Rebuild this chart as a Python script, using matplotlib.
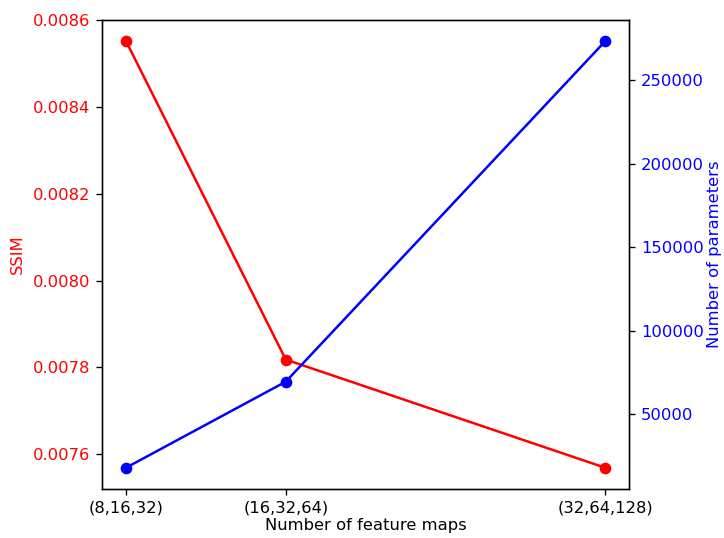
import matplotlib
matplotlib.use("Agg")
import matplotlib.pyplot as plt

plt.rcParams["font.size"] = 9.8

# data
feature_maps = [8, 16, 32]
tick_labels = ["(8,16,32)", "(16,32,64)", "(32,64,128)"]
ssim = [0.008552, 0.007818, 0.0075687]
n_params = [17965, 69460, 273230]

fig, ax1 = plt.subplots(figsize=(724 / 120, 538 / 120), dpi=120)
fig.subplots_adjust(left=0.141, right=0.869, top=0.963, bottom=0.091)

ax1.plot(feature_maps, ssim, "o-", color="red")
ax1.set_xlabel("Number of feature maps", labelpad=1.5)
ax1.set_ylabel("SSIM", color="red", labelpad=5)
ax1.tick_params(axis="y", labelcolor="red")
ax1.set_xticks(feature_maps)
ax1.set_xticklabels(tick_labels)

ax2 = ax1.twinx()
ax2.plot(feature_maps, n_params, "o-", color="blue")
ax2.set_ylabel("Number of parameters", color="blue", labelpad=2)
ax2.tick_params(axis="y", labelcolor="blue")

fig.savefig("out.png", dpi=120)
